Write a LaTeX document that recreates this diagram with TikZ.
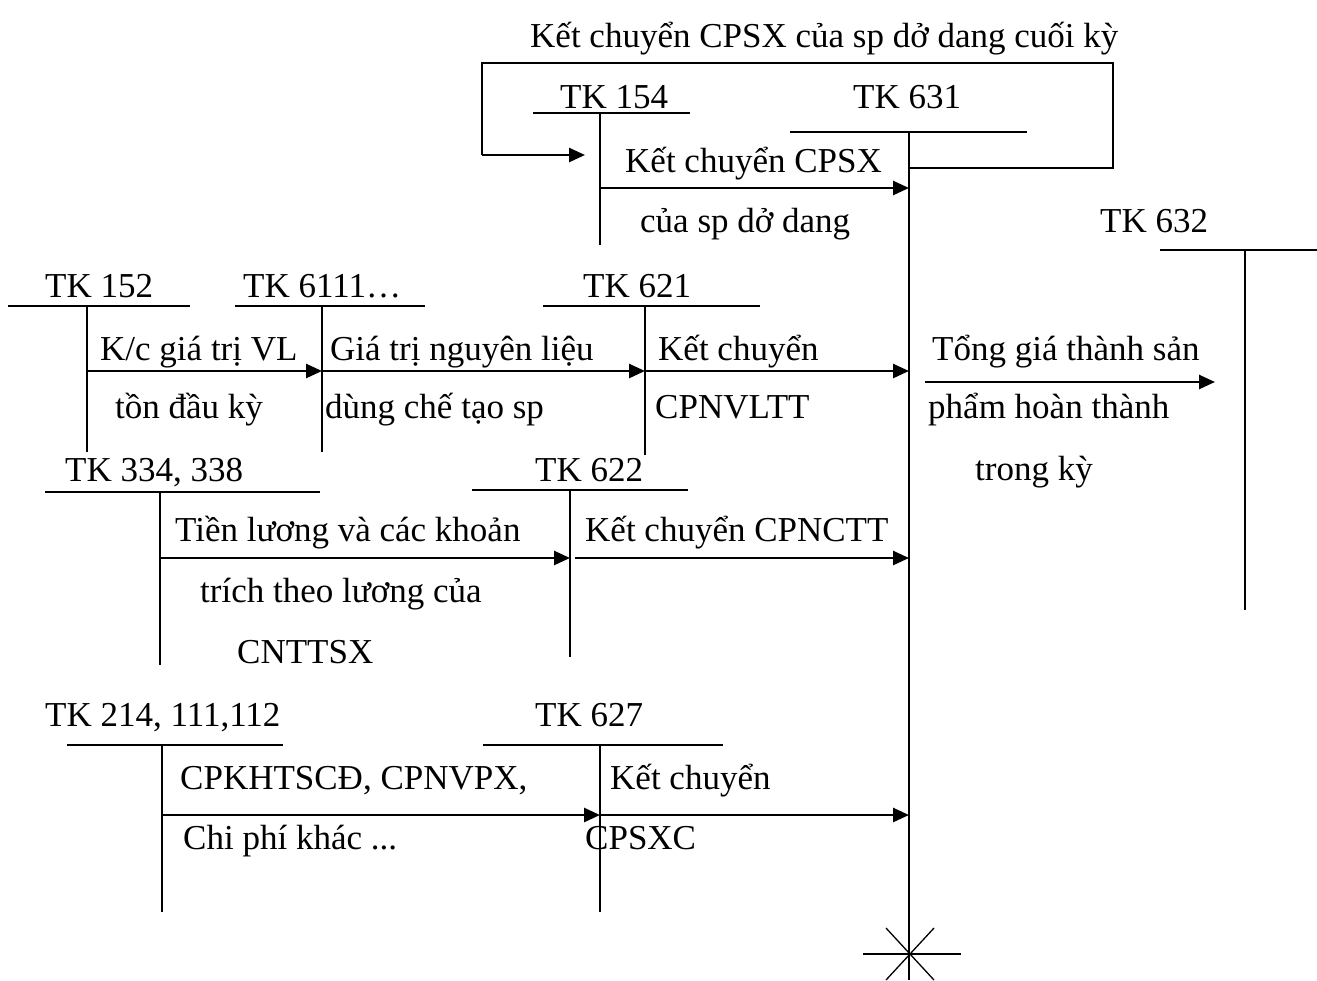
\documentclass[tikz,border=0pt]{standalone}
\usepackage{fontspec}
\setmainfont{Liberation Serif}
\usetikzlibrary{arrows.meta}

\begin{document}
\begin{tikzpicture}[
				x=1pt, y=-1pt,
				every node/.style={font=\fontsize{35}{40}\selectfont, inner sep=0pt},
				txt/.style={anchor=base west},
				tline/.style={line width=1.3pt},
				uline/.style={line width=2pt},
				flow/.style={-{Triangle[length=16pt,width=14pt]}, line width=2.6pt}
				]
				\useasboundingbox (0,0) rectangle (1317,980);
				
				% account names
				\node[txt] (t154) at (560,108) {TK 154};
				\node[txt] (t631) at (853,108) {TK 631};
				\node[txt] (t632) at (1100,232) {TK 632};
				\node[txt] (t152) at (45,297) {TK 152};
				\node[txt] (t6111) at (243,297) {TK 6111…};
				\node[txt] (t621) at (583,297) {TK 621};
				\node[txt] (t334) at (65,481) {TK 334, 338};
				\node[txt] (t622) at (535,481) {TK 622};
				\node[txt] (t214) at (45,726) {TK 214, 111,112};
				\node[txt] (t627) at (535,726) {TK 627};
				
				% T accounts
				\coordinate (v154) at (600,113);
				\coordinate (v631) at (909,132);
				\coordinate (v632) at (1245,250);
				\coordinate (v152) at (87,306);
				\coordinate (v6111) at (322,306);
				\coordinate (v621) at (645,306);
				\coordinate (v334) at (160,492);
				\coordinate (v622) at (570,490);
				\coordinate (v214) at (162,745);
				\coordinate (v627) at (600,745);
				
				\draw[uline] (533,113) -- (690,113);
				\draw[uline] (790,132) -- (1027,132);
				\draw[uline] (1160,250) -- (1317,250);
				\draw[uline] (8,306) -- (190,306);
				\draw[uline] (235,306) -- (425,306);
				\draw[uline] (543,306) -- (760,306);
				\draw[uline] (45,492) -- (320,492);
				\draw[uline] (472,490) -- (688,490);
				\draw[uline] (67,745) -- (283,745);
				\draw[uline] (483,745) -- (723,745);
				
				\draw[tline] (v154) -- ++(0,132);
				\draw[tline] (v631) -- (909,980);
				\draw[tline] (v632) -- ++(0,360);
				\draw[tline] (v152) -- ++(0,146);
				\draw[tline] (v6111) -- ++(0,146);
				\draw[tline] (v621) -- ++(0,149);
				\draw[tline] (v334) -- ++(0,173);
				\draw[tline] (v622) -- ++(0,167);
				\draw[tline] (v214) -- ++(0,167);
				\draw[tline] (v627) -- ++(0,167);
				
				% closing mark on TK 631
				\draw[tline] (863,954) -- (961,954);
				\draw[tline] (886,928) -- (934,980);
				\draw[tline] (934,928) -- (886,980);
				
				% rows of the flows
				\coordinate (r0) at (0,188);
				\coordinate (r1) at (0,371);
				\coordinate (r2) at (0,558);
				\coordinate (r3) at (0,815);
				
				% loop back to TK 154
				\coordinate (loopR) at (1113,168);
				\coordinate (loopL) at (482,155);
				\coordinate (loopE) at (585,155);
				\draw[tline] (v631 |- loopR) -- (loopR) -- (1113,63) -- (482,63) -- (loopL);
				\draw[flow] (loopL) -- (loopE);
				\node[txt] (lt) at (530,47) {Kết chuyển CPSX của sp dở dang cuối kỳ};
				
				\draw[flow] (v154 |- r0) -- (v631 |- r0);
				\node[txt] (l1a) at (625,172) {Kết chuyển CPSX};
				\node[txt] (l1b) at (640,232) {của sp dở dang};
				
				\draw[flow] (v152 |- r1) -- (v6111 |- r1);
				\draw[flow] (v6111 |- r1) -- (v621 |- r1);
				\draw[flow] (v621 |- r1) -- (v631 |- r1);
				\node[txt] (l2a) at (100,360) {K/c giá trị VL};
				\node[txt] (l2b) at (115,418) {tồn đầu kỳ};
				\node[txt] (l3a) at (330,360) {Giá trị nguyên liệu};
				\node[txt] (l3b) at (325,418) {dùng chế tạo sp};
				\node[txt] (l4a) at (658,360) {Kết chuyển};
				\node[txt] (l4b) at (655,418) {CPNVLTT};
				
				% output to TK 632
				\coordinate (outS) at (925,382);
				\coordinate (outE) at (1215,382);
				\draw[flow] (outS) -- (outE);
				\node[txt] (l5a) at (932,360) {Tổng giá thành sản};
				\node[txt] (l5b) at (928,418) {phẩm hoàn thành};
				\node[txt] (l5c) at (975,480) {trong kỳ};
				
				\draw[flow] (v334 |- r2) -- (v622 |- r2);
				\draw[flow] ([xshift=5pt]v622 |- r2) -- (v631 |- r2);
				\node[txt] (l6a) at (175,541) {Tiền lương và các khoản};
				\node[txt] (l6b) at (200,602) {trích theo lương của};
				\node[txt] (l6c) at (237,663) {CNTTSX};
				\node[txt] (l7) at (585,541) {Kết chuyển CPNCTT};
				
				\draw[flow] (v214 |- r3) -- (v627 |- r3);
				\draw[flow] (v627 |- r3) -- (v631 |- r3);
				\node[txt] (l8a) at (180,789) {CPKHTSCĐ, CPNVPX,};
				\node[txt] (l8b) at (183,849) {Chi phí khác ...};
				\node[txt] (l9a) at (610,789) {Kết chuyển};
				\node[txt] (l9b) at (585,849) {CPSXC};
			\end{tikzpicture}
\end{document}
